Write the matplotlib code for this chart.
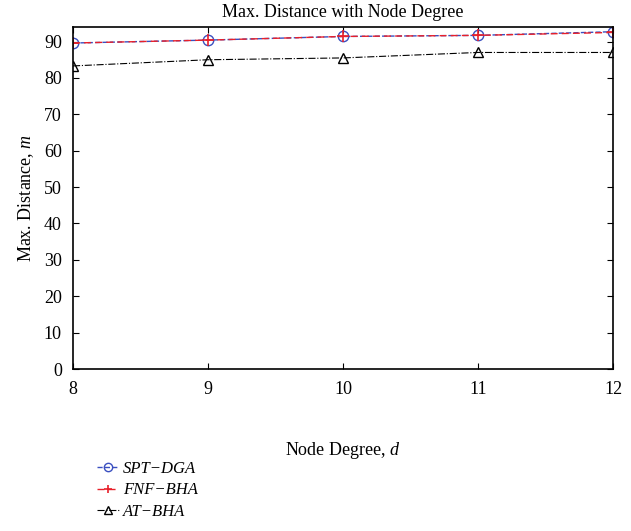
import matplotlib
matplotlib.use("Agg")
import matplotlib.pyplot as plt

node_degree = [8, 9, 10, 11, 12]
spt_dga = [89.6, 90.4, 91.4, 91.7, 92.7]
fnf_bha = [89.6, 90.4, 91.4, 91.7, 92.5]
at_bha = [83.3, 85.0, 85.5, 87.0, 87.0]

plt.rcParams['font.family'] = ['Liberation Serif', 'DejaVu Serif']
plt.rcParams['mathtext.fontset'] = 'custom'
plt.rcParams['mathtext.it'] = 'Liberation Serif:italic'
plt.rcParams['mathtext.rm'] = 'Liberation Serif'

fig = plt.figure(figsize=(6.31, 5.31), dpi=100)
ax = fig.add_axes([73/631, 1-369/531, (613-73)/631, (369-27)/531])

l1, = ax.plot(node_degree, spt_dga, linestyle='--', color='#3a4fc0', marker='o',
              markersize=7.5, markerfacecolor='none', markeredgecolor='#3a4fc0', linewidth=1)
l2, = ax.plot(node_degree, fnf_bha, linestyle='--', color='#e8202a', marker='+',
              markersize=8, markeredgewidth=1.2, linewidth=1, dashes=(5, 3))
l3, = ax.plot(node_degree, at_bha, linestyle='-.', color='black', marker='^',
              markersize=7.5, markerfacecolor='none', markeredgecolor='black', linewidth=0.8)

ax.set_xlim(8, 12)
ax.set_ylim(0, 94)
ax.set_xticks(node_degree)
ax.set_yticks(range(0, 91, 10))
ax.tick_params(direction='in', top=True, right=True, labelsize=13, length=4)
ax.tick_params(axis='y', pad=8)
ax.tick_params(axis='x', pad=9)
for s in ax.spines.values():
    s.set_linewidth(1.2)

ax.set_title('Max. Distance with Node Degree', fontsize=13, pad=7)
ax.set_xlabel('Node Degree, $d$', fontsize=13, labelpad=30)
ax.set_ylabel('Max. Distance, $m$', fontsize=13, labelpad=6)

leg = fig.legend([l1, l2, l3], ['SPT−DGA', 'FNF−BHA', 'AT−BHA'],
                 loc='upper left', bbox_to_anchor=(97/631, 1-461/531), frameon=False,
                 prop={'style': 'italic', 'size': 12}, handlelength=1.3, labelspacing=0.32,
                 handletextpad=0.25, borderaxespad=0, borderpad=0)
for h in leg.legend_handles:
    h.set_markersize(6)

fig.savefig('out.png', dpi=100)
